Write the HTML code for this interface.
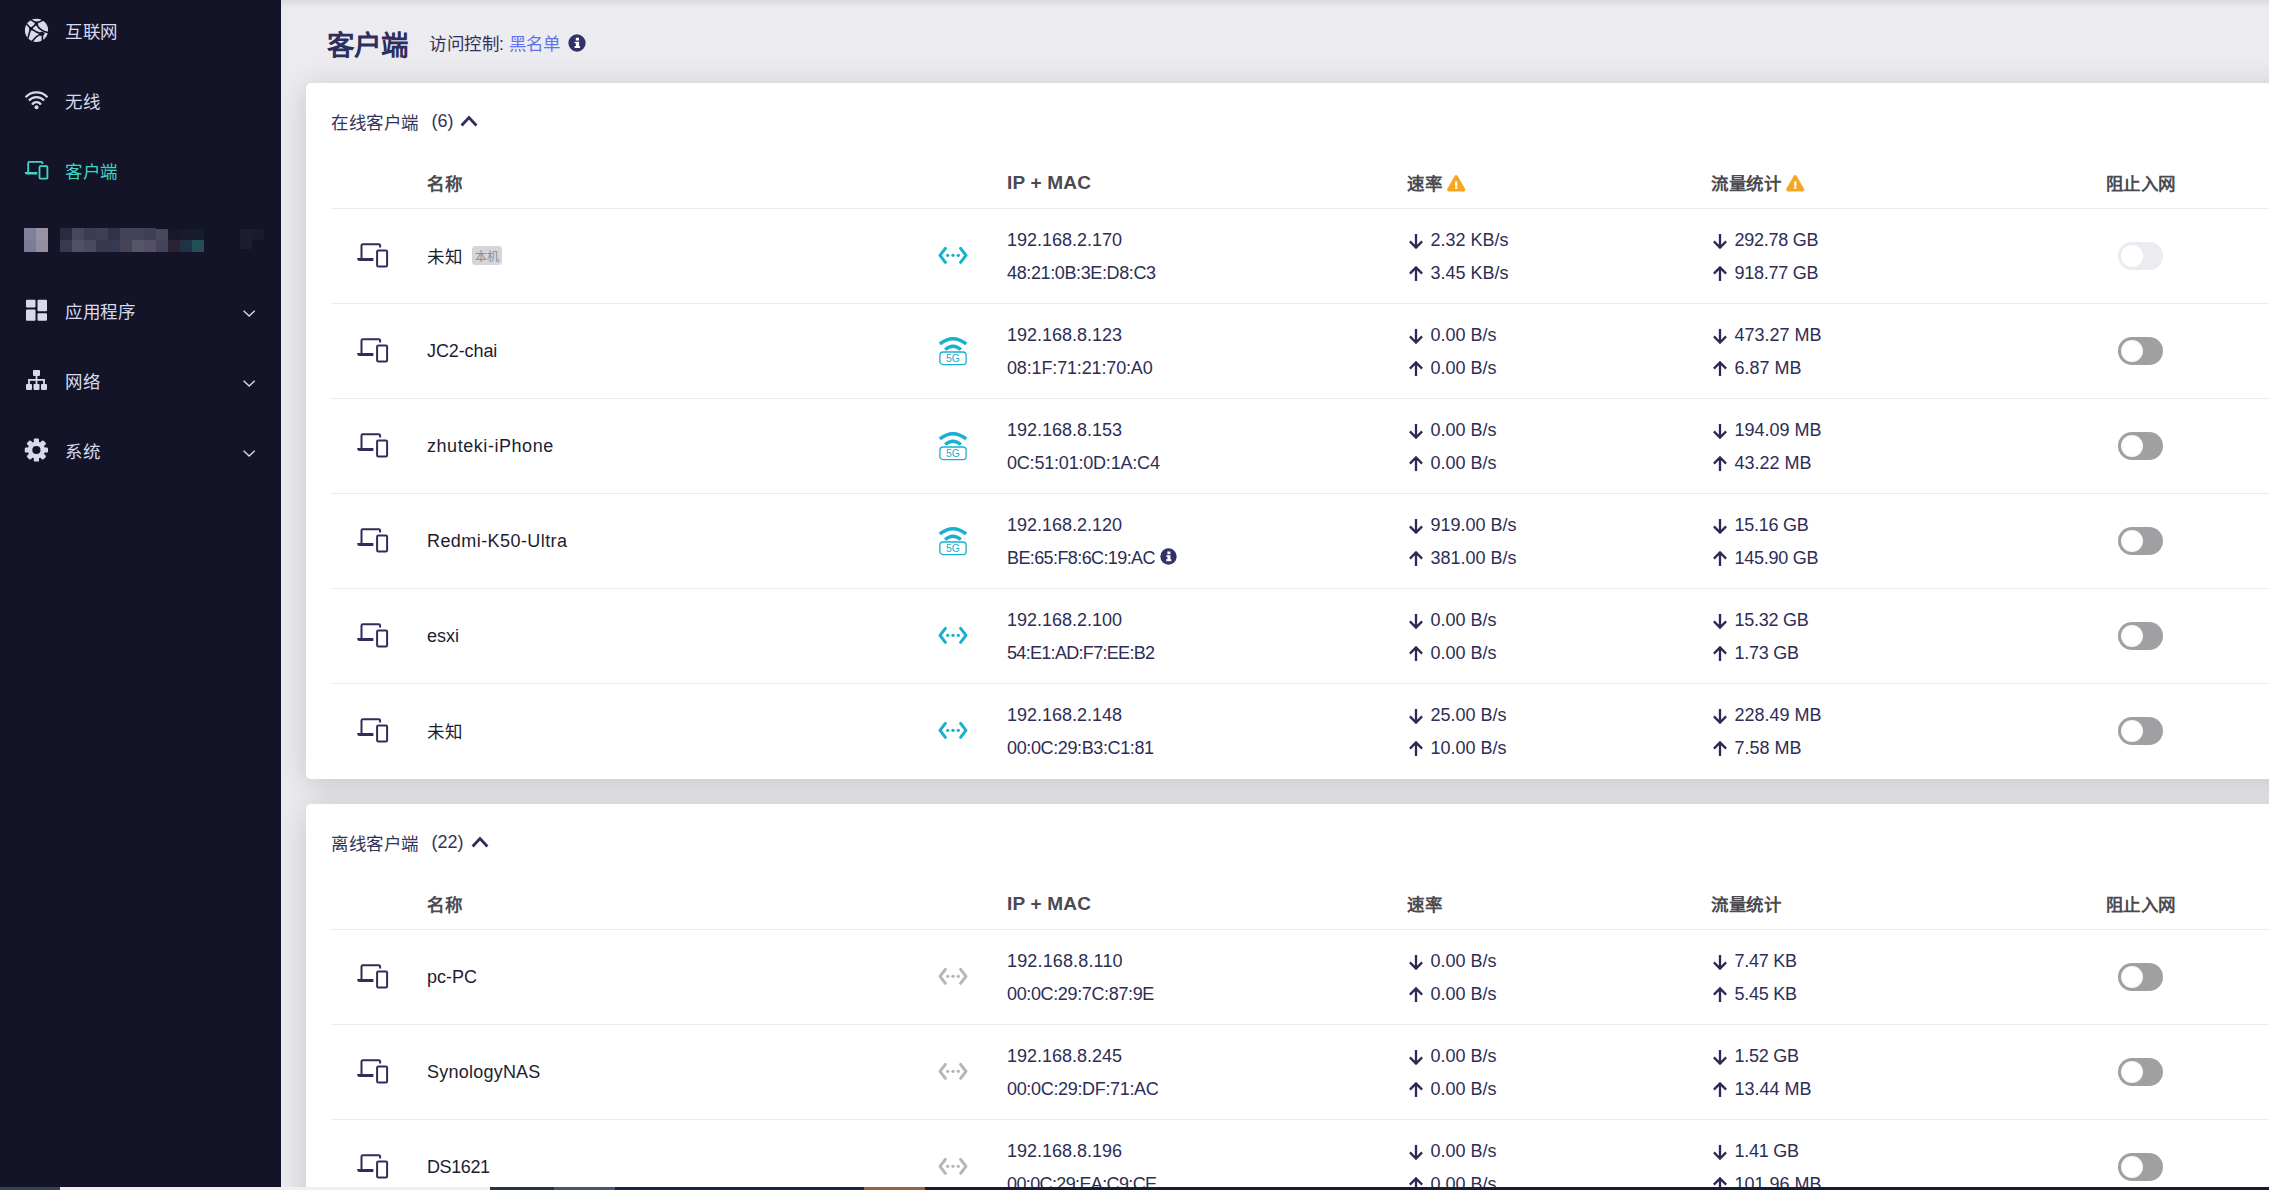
<!DOCTYPE html>
<html lang="zh-CN">
<head>
<meta charset="utf-8">
<title>客户端</title>
<style>
*{margin:0;padding:0;box-sizing:border-box}
html,body{width:2269px;height:1190px;overflow:hidden}
body{position:relative;background:#ebebf0;font-family:"Liberation Sans",sans-serif;font-size:17.5px;color:#2d2d56}
svg{display:block;position:absolute;overflow:visible}
.side{position:absolute;left:0;top:0;width:281px;height:1190px;background:#131427;color:#d9d9ee}
.side .it{position:absolute;left:0;width:280px;height:70px}
.side .it span{position:absolute;left:65px;top:2px;line-height:70px;font-size:17.5px;letter-spacing:.5px;white-space:nowrap}
.side .it.act{color:#3fd6c8}
.side .ico{left:24px;top:23px}
.side .chevdn{left:242.8px;top:35.4px}
.mz{position:absolute;width:12px;height:12px}
.main{position:absolute;left:0;top:0;width:2269px;height:1190px;overflow:hidden}
.ptitle{position:absolute;left:327px;top:25.5px;line-height:40px;font-size:27.5px;font-weight:bold;color:#2e2e5e;white-space:nowrap}
.acl{position:absolute;left:429px;top:29px;line-height:30px;font-size:17.5px;color:#33335a;white-space:nowrap}
.acl .lnk{color:#6272ee;margin-left:-0.5px}
.acl .info{left:138.9px;top:5px;color:#323266}
.card{position:absolute;left:306px;width:2100px;background:#fff;border-radius:5px;box-shadow:0 5px 32px rgba(0,0,0,.165)}
.c1{top:83px;height:696px}
.c2{top:804px;height:500px}
.ctitle{position:absolute;left:25px;top:23px;height:30px;line-height:30px;font-size:17.5px;color:#33335a;white-space:nowrap}
.ctitle .cnt{margin-left:13px;font-size:18px}
.cjk{letter-spacing:.5px}
.ctitle .cjk{position:relative;top:1.5px}
.ctitle .chevup{top:9px;color:#2e2e5e}
.c1 .chevup{left:129px}
.c2 .chevup{left:140px}
.thead{position:absolute;left:25px;top:76px;width:2100px;height:50px;border-bottom:1px solid #e9e9f1}
.h{position:absolute;top:8px;line-height:32px;font-size:17.5px;font-weight:bold;color:#4a4a50;white-space:nowrap}
.h1{left:96px}.h2{left:676px;font-size:19px;letter-spacing:.2px}.h3{left:1076px}.h4{left:1380px}.h5{left:1774.5px}
.h1,.h3,.h4,.h5{top:9px;letter-spacing:.5px}
.h .warn{top:7.2px}
.h3 .warn{left:39.5px}.h4 .warn{left:74.5px}
.row{position:absolute;left:25px;width:2100px;height:95px;border-bottom:1px solid #e9e9f1}
.row .dev{left:26px;top:33px;color:#2e2d5b}
.name{position:absolute;left:96px;top:31px;line-height:32px;font-size:18px;color:#1d1d30;white-space:nowrap}
.name.cjk{font-size:17.5px;top:32px}
.name.cjk .badge{margin-top:5px}
.badge{display:inline-block;vertical-align:top;margin:6px 0 0 10px;letter-spacing:0;width:30px;height:19px;line-height:23px;overflow:hidden;border-radius:3.5px;background:#d5d5dc;color:#8d8d96;font-size:12px;text-align:center}
.conn{color:#17b0ce}
.conn.gray{color:#b4b6bd}
.row .conn{left:607px;top:37.3px}
.row .conn.wifi{left:607px;top:31.5px}
.c{position:absolute;top:15px;white-space:nowrap}
.c .l{position:relative;height:32.5px;line-height:32.5px;font-size:18px}
.ip{left:676px}.sp{left:1076px}.tr{left:1380px}
.c .arr{left:0.5px;top:9.5px;color:#2a2a55}
.sp span,.tr span{margin-left:23.5px}
.mac .mi{display:inline-block;position:relative;vertical-align:top;margin:6.7px 0 0 5.5px;width:17px;height:17px;color:#323266}
.tg{position:absolute;left:1787px;top:33px;width:45px;height:28px;border-radius:14px;background:#a0a0a2}
.tg i{position:absolute;left:2.75px;top:2.5px;width:22.5px;height:22.5px;border-radius:50%;background:radial-gradient(circle,#fff 55%,#f1f1f1 85%,#e6e6e8 100%)}
.tg.dis{background:#ebebf1}
.tg.dis i{background:#fff}
.strip{position:absolute;left:0;top:1187px;width:2269px;height:3px;overflow:hidden}
.strip i{position:absolute;top:0;height:3px}
.c .arr.dn{top:9px}
.row.last{border-bottom-color:transparent}
.topsh{position:absolute;left:281px;top:0;width:1988px;height:9px;background:linear-gradient(rgba(0,0,0,.075),rgba(0,0,0,.03) 45%,rgba(0,0,0,0))}
.ctitle .cjk{display:inline-block;width:87.5px;height:30px;vertical-align:top;overflow:visible}
.acl .cjk{display:inline-block;width:75.4px;vertical-align:top}
.name.cjk .badge{position:absolute;left:45px;top:5px;margin:0}

</style>
</head>
<body>
<div class="side">
<div class="it" style="top:-5px"><svg class="ico" viewBox="0 0 24 24" width="24" height="24"><circle cx="12.5" cy="12.3" r="11.6" fill="#d9d9ee"/><g fill="none" stroke="#131427" stroke-width="1.6" stroke-linecap="round"><path d="M7.4 2Q12.4 6.6 18.8 2.2"/><path d="M12.4 5.9L7 10.7L2.8 6.2"/><path d="M6.7 11Q5.2 15 4.1 19.6"/><path d="M7 10.7Q12 14.5 17.5 15.9"/><path d="M12.4 5.9Q15.6 13.2 24.4 14.6"/><path d="M18.4 15.5V22.4"/><path d="M17.5 15.9Q12.2 17.6 8.4 23.2"/></g><g fill="#131427"><rect x="10.7" y="4.3" width="3.4" height="3.3" rx=".3"/><rect x="5.2" y="8.9" width="3.5" height="3.5" rx=".3"/><path d="M14.8 15.7L17.5 13.4L21 14.9L19.2 17.8L16.4 17.8z"/></g></svg><span>互联网</span></div>
<div class="it" style="top:65px"><svg class="ico" viewBox="0 0 24 24" width="24" height="24"><g fill="none" stroke="#d9d9ee" stroke-width="2.3"><path d="M1.6 9.3A14.7 14.7 0 0 1 23.4 9.3"/><path d="M4.9 12.5A10.2 10.2 0 0 1 20.1 12.5"/><path d="M8.1 16.6A5.2 5.2 0 0 1 16.9 16.6"/></g><circle cx="12.5" cy="19.2" r="2" fill="#d9d9ee"/></svg><span>无线</span></div>
<div class="it act" style="top:135px"><svg class="ico" viewBox="0 0 24 24" width="24" height="24"><path d="M18.4 6V4.85a1 1 0 0 0-1-1H5.2a1 1 0 0 0-1 1V14.5" fill="none" stroke="currentColor" stroke-width="1.8"/><path d="M0.8 13.9H13.2V16.6H2.9a2.1 2.1 0 0 1-2.1-2.1z" fill="currentColor"/><rect x="15.5" y="8.2" width="7.9" height="12.4" rx="0.8" fill="none" stroke="currentColor" stroke-width="1.8"/></svg><span>客户端</span></div>
<div class="it" style="top:205px">
<b class="mz" style="left:24px;top:23px;background:#7e809c"></b><b class="mz" style="left:36px;top:23px;background:#9992a4"></b><b class="mz" style="left:24px;top:35px;background:#7a7c98"></b><b class="mz" style="left:36px;top:35px;background:#948d9e"></b>
<b class="mz" style="left:60px;top:23px;background:#2a2b40"></b><b class="mz" style="left:72px;top:23px;background:#47465a"></b><b class="mz" style="left:84px;top:23px;background:#3b3b52"></b><b class="mz" style="left:96px;top:23px;background:#3e3e55"></b><b class="mz" style="left:108px;top:23px;background:#303248"></b><b class="mz" style="left:120px;top:23px;background:#434157"></b><b class="mz" style="left:132px;top:23px;background:#434157"></b><b class="mz" style="left:144px;top:23px;background:#3e3e55"></b><b class="mz" style="left:156px;top:24px;height:11px;background:#4a475c"></b><b class="mz" style="left:168px;top:24px;height:11px;background:#191828"></b><b class="mz" style="left:180px;top:24px;height:11px;background:#171b2c"></b><b class="mz" style="left:192px;top:24px;height:11px;background:#171d2e"></b>
<b class="mz" style="left:60px;top:35px;background:#383850"></b><b class="mz" style="left:72px;top:35px;background:#524f66"></b><b class="mz" style="left:84px;top:35px;background:#4a495f"></b><b class="mz" style="left:96px;top:35px;background:#38384d"></b><b class="mz" style="left:108px;top:35px;background:#363a50"></b><b class="mz" style="left:120px;top:35px;background:#474356"></b><b class="mz" style="left:132px;top:35px;background:#555468"></b><b class="mz" style="left:144px;top:35px;background:#524f66"></b><b class="mz" style="left:156px;top:35px;background:#434359"></b><b class="mz" style="left:168px;top:35px;background:#282436"></b><b class="mz" style="left:180px;top:35px;background:#1f3344"></b><b class="mz" style="left:192px;top:35px;background:#235058"></b>
<b class="mz" style="left:240px;top:24px;height:11px;background:#1c1d30"></b><b class="mz" style="left:252px;top:24px;height:11px;background:#191a2b"></b><b class="mz" style="left:240px;top:35px;height:9px;background:#1c1d30"></b>
</div>
<div class="it" style="top:275px"><svg class="ico" viewBox="0 0 24 24" width="24" height="24"><g fill="#d9d9ee"><rect x="2" y="1.8" width="9.5" height="7.6" rx="1"/><rect x="2" y="11.4" width="9.5" height="11.4" rx="1"/><rect x="13.5" y="1.8" width="9.5" height="11.4" rx="1"/><rect x="13.5" y="15.2" width="9.5" height="7.6" rx="1"/></g></svg><span>应用程序</span><svg class="chevdn" viewBox="0 0 13 8" width="13" height="8"><path d="M0.6 0.7L6.15 6.1L11.7 0.7" fill="none" stroke="currentColor" stroke-width="1.35"/></svg></div>
<div class="it" style="top:345px"><svg class="ico" viewBox="0 0 24 24" width="24" height="24"><g fill="#d9d9ee"><rect x="9" y="1.9" width="7" height="6" rx="0.8"/><rect x="2" y="15.9" width="6" height="6" rx="0.8"/><rect x="9.5" y="15.9" width="6" height="6" rx="0.8"/><rect x="17" y="15.9" width="6" height="6" rx="0.8"/><rect x="11.6" y="7" width="1.8" height="9.5"/><rect x="4.1" y="11" width="16.8" height="1.8"/><rect x="4.1" y="11" width="1.8" height="5.5"/><rect x="19.1" y="11" width="1.8" height="5.5"/></g></svg><span>网络</span><svg class="chevdn" viewBox="0 0 13 8" width="13" height="8"><path d="M0.6 0.7L6.15 6.1L11.7 0.7" fill="none" stroke="currentColor" stroke-width="1.35"/></svg></div>
<div class="it" style="top:415px"><svg class="ico" viewBox="0 0 24 24" width="24" height="24"><g transform="translate(12.4 12)"><g fill="#d9d9ee"><rect x="-2.6" y="-11.6" width="5.2" height="23.2" rx="1.2"/><rect x="-2.6" y="-11.6" width="5.2" height="23.2" rx="1.2" transform="rotate(45)"/><rect x="-2.6" y="-11.6" width="5.2" height="23.2" rx="1.2" transform="rotate(90)"/><rect x="-2.6" y="-11.6" width="5.2" height="23.2" rx="1.2" transform="rotate(135)"/><circle r="8.6"/></g><circle r="4.1" fill="#131427"/></g></svg><span>系统</span><svg class="chevdn" viewBox="0 0 13 8" width="13" height="8"><path d="M0.6 0.7L6.15 6.1L11.7 0.7" fill="none" stroke="currentColor" stroke-width="1.35"/></svg></div>
</div>

<div class="main">
<div class="topsh"></div>
<div class="ptitle">客户端</div>
<div class="acl"><span class="cjk">访问控制:</span> <span class="lnk">黑名单</span><svg class="info" viewBox="0 0 18 18" width="18" height="18"><circle cx="9" cy="9" r="8.65" fill="currentColor"/><path d="M7.8 3.8h3.2v2.7H7.8zM6.6 7.7h4.5v4.3h0.9v2H6.6v-2h1.3V9.3H6.6z" fill="#fff"/></svg></div>
<div class="card c1">
<div class="ctitle"><span class="cjk">在线客户端</span><span class="cnt">(6)</span><svg class="chevup" viewBox="0 0 18 12" width="18" height="12"><path d="M1.6 10.4L9 2.6L16.4 10.4" fill="none" stroke="currentColor" stroke-width="2.9"/></svg></div>
<div class="thead"><div class="h h1">名称</div><div class="h h2">IP + MAC</div><div class="h h3">速率<svg class="warn" viewBox="0 0 19 17" width="19" height="17"><path d="M9.2 2.1L16.4 14.6H2z" fill="#f5a623" stroke="#f5a623" stroke-width="3.8" stroke-linejoin="round"/><path d="M8.1 6.4h2.3v5H8.1zM8.1 11.9h2.3v1.8H8.1z" fill="#fff"/></svg></div><div class="h h4">流量统计<svg class="warn" viewBox="0 0 19 17" width="19" height="17"><path d="M9.2 2.1L16.4 14.6H2z" fill="#f5a623" stroke="#f5a623" stroke-width="3.8" stroke-linejoin="round"/><path d="M8.1 6.4h2.3v5H8.1zM8.1 11.9h2.3v1.8H8.1z" fill="#fff"/></svg></div><div class="h h5">阻止入网</div></div>
<div class="row" style="top:126px">
<svg class="dev" viewBox="0 0 32 26" width="32" height="26"><path d="M23.1 5.4V3.6a1.4 1.4 0 0 0-1.4-1.4H5.9a1.4 1.4 0 0 0-1.4 1.4V17" fill="none" stroke="currentColor" stroke-width="2"/><path d="M0.2 15.9H16.4V18.9H2.7a2.5 2.5 0 0 1-2.5-2.5z" fill="currentColor"/><rect x="20.1" y="8.4" width="10" height="16" rx="1.2" fill="none" stroke="currentColor" stroke-width="2"/></svg>
<div class="name cjk">未知<span class="badge">本机</span></div>
<svg class="conn " viewBox="0 0 30 18" width="30" height="18"><path d="M7.4 2.4L2 9.4L7.4 16.4M22.6 2.4L28 9.4L22.6 16.4" fill="none" stroke="currentColor" stroke-width="3" stroke-linecap="round" stroke-linejoin="round"/><circle cx="9.7" cy="9.3" r="1.65" fill="currentColor"/><circle cx="15" cy="9.3" r="1.65" fill="currentColor"/><circle cx="20.3" cy="9.3" r="1.65" fill="currentColor"/></svg>
<div class="c ip"><div class="l">192.168.2.170</div><div class="l mac" style="letter-spacing:-0.38px">48:21:0B:3E:D8:C3</div></div>
<div class="c sp"><div class="l"><svg class="arr dn" viewBox="0 0 16 16" width="16" height="16"><path d="M8 1V14.2M1.9 8.4L8 14.6L14.1 8.4" fill="none" stroke="currentColor" stroke-width="2.3"/></svg><span>2.32 KB/s</span></div><div class="l"><svg class="arr" viewBox="0 0 16 16" width="16" height="16"><path d="M8 15V1.8M1.9 7.6L8 1.4L14.1 7.6" fill="none" stroke="currentColor" stroke-width="2.3"/></svg><span>3.45 KB/s</span></div></div>
<div class="c tr"><div class="l"><svg class="arr dn" viewBox="0 0 16 16" width="16" height="16"><path d="M8 1V14.2M1.9 8.4L8 14.6L14.1 8.4" fill="none" stroke="currentColor" stroke-width="2.3"/></svg><span style="letter-spacing:-0.27px">292.78 GB</span></div><div class="l"><svg class="arr" viewBox="0 0 16 16" width="16" height="16"><path d="M8 15V1.8M1.9 7.6L8 1.4L14.1 7.6" fill="none" stroke="currentColor" stroke-width="2.3"/></svg><span style="letter-spacing:-0.27px">918.77 GB</span></div></div>
<div class="tg dis"><i></i></div>
</div>
<div class="row" style="top:221px">
<svg class="dev" viewBox="0 0 32 26" width="32" height="26"><path d="M23.1 5.4V3.6a1.4 1.4 0 0 0-1.4-1.4H5.9a1.4 1.4 0 0 0-1.4 1.4V17" fill="none" stroke="currentColor" stroke-width="2"/><path d="M0.2 15.9H16.4V18.9H2.7a2.5 2.5 0 0 1-2.5-2.5z" fill="currentColor"/><rect x="20.1" y="8.4" width="10" height="16" rx="1.2" fill="none" stroke="currentColor" stroke-width="2"/></svg>
<div class="name" style="letter-spacing:-0.1px">JC2-chai</div>
<svg class="conn wifi" viewBox="0 0 30 30" width="30" height="30"><path d="M1.8 7.9Q15 -2.5 28.2 7.9" fill="none" stroke="currentColor" stroke-width="3.4"/><path d="M7.1 13.6Q15 6.8 22.9 13.6" fill="none" stroke="currentColor" stroke-width="3.3"/><rect x="1.9" y="16" width="26.2" height="12.6" rx="3.2" fill="none" stroke="currentColor" stroke-width="1.3"/><text x="15" y="26.1" text-anchor="middle" font-family="Liberation Sans, sans-serif" font-size="10.4" fill="currentColor">5G</text></svg>
<div class="c ip"><div class="l">192.168.8.123</div><div class="l mac" style="letter-spacing:-0.15px">08:1F:71:21:70:A0</div></div>
<div class="c sp"><div class="l"><svg class="arr dn" viewBox="0 0 16 16" width="16" height="16"><path d="M8 1V14.2M1.9 8.4L8 14.6L14.1 8.4" fill="none" stroke="currentColor" stroke-width="2.3"/></svg><span>0.00 B/s</span></div><div class="l"><svg class="arr" viewBox="0 0 16 16" width="16" height="16"><path d="M8 15V1.8M1.9 7.6L8 1.4L14.1 7.6" fill="none" stroke="currentColor" stroke-width="2.3"/></svg><span>0.00 B/s</span></div></div>
<div class="c tr"><div class="l"><svg class="arr dn" viewBox="0 0 16 16" width="16" height="16"><path d="M8 1V14.2M1.9 8.4L8 14.6L14.1 8.4" fill="none" stroke="currentColor" stroke-width="2.3"/></svg><span>473.27 MB</span></div><div class="l"><svg class="arr" viewBox="0 0 16 16" width="16" height="16"><path d="M8 15V1.8M1.9 7.6L8 1.4L14.1 7.6" fill="none" stroke="currentColor" stroke-width="2.3"/></svg><span>6.87 MB</span></div></div>
<div class="tg off"><i></i></div>
</div>
<div class="row" style="top:316px">
<svg class="dev" viewBox="0 0 32 26" width="32" height="26"><path d="M23.1 5.4V3.6a1.4 1.4 0 0 0-1.4-1.4H5.9a1.4 1.4 0 0 0-1.4 1.4V17" fill="none" stroke="currentColor" stroke-width="2"/><path d="M0.2 15.9H16.4V18.9H2.7a2.5 2.5 0 0 1-2.5-2.5z" fill="currentColor"/><rect x="20.1" y="8.4" width="10" height="16" rx="1.2" fill="none" stroke="currentColor" stroke-width="2"/></svg>
<div class="name" style="letter-spacing:0.55px">zhuteki-iPhone</div>
<svg class="conn wifi" viewBox="0 0 30 30" width="30" height="30"><path d="M1.8 7.9Q15 -2.5 28.2 7.9" fill="none" stroke="currentColor" stroke-width="3.4"/><path d="M7.1 13.6Q15 6.8 22.9 13.6" fill="none" stroke="currentColor" stroke-width="3.3"/><rect x="1.9" y="16" width="26.2" height="12.6" rx="3.2" fill="none" stroke="currentColor" stroke-width="1.3"/><text x="15" y="26.1" text-anchor="middle" font-family="Liberation Sans, sans-serif" font-size="10.4" fill="currentColor">5G</text></svg>
<div class="c ip"><div class="l">192.168.8.153</div><div class="l mac" style="letter-spacing:-0.2px">0C:51:01:0D:1A:C4</div></div>
<div class="c sp"><div class="l"><svg class="arr dn" viewBox="0 0 16 16" width="16" height="16"><path d="M8 1V14.2M1.9 8.4L8 14.6L14.1 8.4" fill="none" stroke="currentColor" stroke-width="2.3"/></svg><span>0.00 B/s</span></div><div class="l"><svg class="arr" viewBox="0 0 16 16" width="16" height="16"><path d="M8 15V1.8M1.9 7.6L8 1.4L14.1 7.6" fill="none" stroke="currentColor" stroke-width="2.3"/></svg><span>0.00 B/s</span></div></div>
<div class="c tr"><div class="l"><svg class="arr dn" viewBox="0 0 16 16" width="16" height="16"><path d="M8 1V14.2M1.9 8.4L8 14.6L14.1 8.4" fill="none" stroke="currentColor" stroke-width="2.3"/></svg><span>194.09 MB</span></div><div class="l"><svg class="arr" viewBox="0 0 16 16" width="16" height="16"><path d="M8 15V1.8M1.9 7.6L8 1.4L14.1 7.6" fill="none" stroke="currentColor" stroke-width="2.3"/></svg><span>43.22 MB</span></div></div>
<div class="tg off"><i></i></div>
</div>
<div class="row" style="top:411px">
<svg class="dev" viewBox="0 0 32 26" width="32" height="26"><path d="M23.1 5.4V3.6a1.4 1.4 0 0 0-1.4-1.4H5.9a1.4 1.4 0 0 0-1.4 1.4V17" fill="none" stroke="currentColor" stroke-width="2"/><path d="M0.2 15.9H16.4V18.9H2.7a2.5 2.5 0 0 1-2.5-2.5z" fill="currentColor"/><rect x="20.1" y="8.4" width="10" height="16" rx="1.2" fill="none" stroke="currentColor" stroke-width="2"/></svg>
<div class="name" style="letter-spacing:0.43px">Redmi-K50-Ultra</div>
<svg class="conn wifi" viewBox="0 0 30 30" width="30" height="30"><path d="M1.8 7.9Q15 -2.5 28.2 7.9" fill="none" stroke="currentColor" stroke-width="3.4"/><path d="M7.1 13.6Q15 6.8 22.9 13.6" fill="none" stroke="currentColor" stroke-width="3.3"/><rect x="1.9" y="16" width="26.2" height="12.6" rx="3.2" fill="none" stroke="currentColor" stroke-width="1.3"/><text x="15" y="26.1" text-anchor="middle" font-family="Liberation Sans, sans-serif" font-size="10.4" fill="currentColor">5G</text></svg>
<div class="c ip"><div class="l">192.168.2.120</div><div class="l mac" style="letter-spacing:-0.6px">BE:65:F8:6C:19:AC<svg class="info mi" viewBox="0 0 18 18" width="18" height="18"><circle cx="9" cy="9" r="8.65" fill="currentColor"/><path d="M7.8 3.8h3.2v2.7H7.8zM6.6 7.7h4.5v4.3h0.9v2H6.6v-2h1.3V9.3H6.6z" fill="#fff"/></svg></div></div>
<div class="c sp"><div class="l"><svg class="arr dn" viewBox="0 0 16 16" width="16" height="16"><path d="M8 1V14.2M1.9 8.4L8 14.6L14.1 8.4" fill="none" stroke="currentColor" stroke-width="2.3"/></svg><span>919.00 B/s</span></div><div class="l"><svg class="arr" viewBox="0 0 16 16" width="16" height="16"><path d="M8 15V1.8M1.9 7.6L8 1.4L14.1 7.6" fill="none" stroke="currentColor" stroke-width="2.3"/></svg><span>381.00 B/s</span></div></div>
<div class="c tr"><div class="l"><svg class="arr dn" viewBox="0 0 16 16" width="16" height="16"><path d="M8 1V14.2M1.9 8.4L8 14.6L14.1 8.4" fill="none" stroke="currentColor" stroke-width="2.3"/></svg><span style="letter-spacing:-0.27px">15.16 GB</span></div><div class="l"><svg class="arr" viewBox="0 0 16 16" width="16" height="16"><path d="M8 15V1.8M1.9 7.6L8 1.4L14.1 7.6" fill="none" stroke="currentColor" stroke-width="2.3"/></svg><span style="letter-spacing:-0.27px">145.90 GB</span></div></div>
<div class="tg off"><i></i></div>
</div>
<div class="row" style="top:506px">
<svg class="dev" viewBox="0 0 32 26" width="32" height="26"><path d="M23.1 5.4V3.6a1.4 1.4 0 0 0-1.4-1.4H5.9a1.4 1.4 0 0 0-1.4 1.4V17" fill="none" stroke="currentColor" stroke-width="2"/><path d="M0.2 15.9H16.4V18.9H2.7a2.5 2.5 0 0 1-2.5-2.5z" fill="currentColor"/><rect x="20.1" y="8.4" width="10" height="16" rx="1.2" fill="none" stroke="currentColor" stroke-width="2"/></svg>
<div class="name">esxi</div>
<svg class="conn " viewBox="0 0 30 18" width="30" height="18"><path d="M7.4 2.4L2 9.4L7.4 16.4M22.6 2.4L28 9.4L22.6 16.4" fill="none" stroke="currentColor" stroke-width="3" stroke-linecap="round" stroke-linejoin="round"/><circle cx="9.7" cy="9.3" r="1.65" fill="currentColor"/><circle cx="15" cy="9.3" r="1.65" fill="currentColor"/><circle cx="20.3" cy="9.3" r="1.65" fill="currentColor"/></svg>
<div class="c ip"><div class="l">192.168.2.100</div><div class="l mac" style="letter-spacing:-0.69px">54:E1:AD:F7:EE:B2</div></div>
<div class="c sp"><div class="l"><svg class="arr dn" viewBox="0 0 16 16" width="16" height="16"><path d="M8 1V14.2M1.9 8.4L8 14.6L14.1 8.4" fill="none" stroke="currentColor" stroke-width="2.3"/></svg><span>0.00 B/s</span></div><div class="l"><svg class="arr" viewBox="0 0 16 16" width="16" height="16"><path d="M8 15V1.8M1.9 7.6L8 1.4L14.1 7.6" fill="none" stroke="currentColor" stroke-width="2.3"/></svg><span>0.00 B/s</span></div></div>
<div class="c tr"><div class="l"><svg class="arr dn" viewBox="0 0 16 16" width="16" height="16"><path d="M8 1V14.2M1.9 8.4L8 14.6L14.1 8.4" fill="none" stroke="currentColor" stroke-width="2.3"/></svg><span style="letter-spacing:-0.27px">15.32 GB</span></div><div class="l"><svg class="arr" viewBox="0 0 16 16" width="16" height="16"><path d="M8 15V1.8M1.9 7.6L8 1.4L14.1 7.6" fill="none" stroke="currentColor" stroke-width="2.3"/></svg><span style="letter-spacing:-0.27px">1.73 GB</span></div></div>
<div class="tg off"><i></i></div>
</div>
<div class="row last" style="top:601px">
<svg class="dev" viewBox="0 0 32 26" width="32" height="26"><path d="M23.1 5.4V3.6a1.4 1.4 0 0 0-1.4-1.4H5.9a1.4 1.4 0 0 0-1.4 1.4V17" fill="none" stroke="currentColor" stroke-width="2"/><path d="M0.2 15.9H16.4V18.9H2.7a2.5 2.5 0 0 1-2.5-2.5z" fill="currentColor"/><rect x="20.1" y="8.4" width="10" height="16" rx="1.2" fill="none" stroke="currentColor" stroke-width="2"/></svg>
<div class="name cjk">未知</div>
<svg class="conn " viewBox="0 0 30 18" width="30" height="18"><path d="M7.4 2.4L2 9.4L7.4 16.4M22.6 2.4L28 9.4L22.6 16.4" fill="none" stroke="currentColor" stroke-width="3" stroke-linecap="round" stroke-linejoin="round"/><circle cx="9.7" cy="9.3" r="1.65" fill="currentColor"/><circle cx="15" cy="9.3" r="1.65" fill="currentColor"/><circle cx="20.3" cy="9.3" r="1.65" fill="currentColor"/></svg>
<div class="c ip"><div class="l">192.168.2.148</div><div class="l mac" style="letter-spacing:-0.38px">00:0C:29:B3:C1:81</div></div>
<div class="c sp"><div class="l"><svg class="arr dn" viewBox="0 0 16 16" width="16" height="16"><path d="M8 1V14.2M1.9 8.4L8 14.6L14.1 8.4" fill="none" stroke="currentColor" stroke-width="2.3"/></svg><span>25.00 B/s</span></div><div class="l"><svg class="arr" viewBox="0 0 16 16" width="16" height="16"><path d="M8 15V1.8M1.9 7.6L8 1.4L14.1 7.6" fill="none" stroke="currentColor" stroke-width="2.3"/></svg><span>10.00 B/s</span></div></div>
<div class="c tr"><div class="l"><svg class="arr dn" viewBox="0 0 16 16" width="16" height="16"><path d="M8 1V14.2M1.9 8.4L8 14.6L14.1 8.4" fill="none" stroke="currentColor" stroke-width="2.3"/></svg><span>228.49 MB</span></div><div class="l"><svg class="arr" viewBox="0 0 16 16" width="16" height="16"><path d="M8 15V1.8M1.9 7.6L8 1.4L14.1 7.6" fill="none" stroke="currentColor" stroke-width="2.3"/></svg><span>7.58 MB</span></div></div>
<div class="tg off"><i></i></div>
</div>
</div>
<div class="card c2">
<div class="ctitle"><span class="cjk">离线客户端</span><span class="cnt">(22)</span><svg class="chevup" viewBox="0 0 18 12" width="18" height="12"><path d="M1.6 10.4L9 2.6L16.4 10.4" fill="none" stroke="currentColor" stroke-width="2.9"/></svg></div>
<div class="thead"><div class="h h1">名称</div><div class="h h2">IP + MAC</div><div class="h h3">速率</div><div class="h h4">流量统计</div><div class="h h5">阻止入网</div></div>
<div class="row" style="top:126px">
<svg class="dev" viewBox="0 0 32 26" width="32" height="26"><path d="M23.1 5.4V3.6a1.4 1.4 0 0 0-1.4-1.4H5.9a1.4 1.4 0 0 0-1.4 1.4V17" fill="none" stroke="currentColor" stroke-width="2"/><path d="M0.2 15.9H16.4V18.9H2.7a2.5 2.5 0 0 1-2.5-2.5z" fill="currentColor"/><rect x="20.1" y="8.4" width="10" height="16" rx="1.2" fill="none" stroke="currentColor" stroke-width="2"/></svg>
<div class="name">pc-PC</div>
<svg class="conn gray" viewBox="0 0 30 18" width="30" height="18"><path d="M7.4 2.4L2 9.4L7.4 16.4M22.6 2.4L28 9.4L22.6 16.4" fill="none" stroke="currentColor" stroke-width="3" stroke-linecap="round" stroke-linejoin="round"/><circle cx="9.7" cy="9.3" r="1.65" fill="currentColor"/><circle cx="15" cy="9.3" r="1.65" fill="currentColor"/><circle cx="20.3" cy="9.3" r="1.65" fill="currentColor"/></svg>
<div class="c ip"><div class="l" style="letter-spacing:0.15px">192.168.8.110</div><div class="l mac" style="letter-spacing:-0.36px">00:0C:29:7C:87:9E</div></div>
<div class="c sp"><div class="l"><svg class="arr dn" viewBox="0 0 16 16" width="16" height="16"><path d="M8 1V14.2M1.9 8.4L8 14.6L14.1 8.4" fill="none" stroke="currentColor" stroke-width="2.3"/></svg><span>0.00 B/s</span></div><div class="l"><svg class="arr" viewBox="0 0 16 16" width="16" height="16"><path d="M8 15V1.8M1.9 7.6L8 1.4L14.1 7.6" fill="none" stroke="currentColor" stroke-width="2.3"/></svg><span>0.00 B/s</span></div></div>
<div class="c tr"><div class="l"><svg class="arr dn" viewBox="0 0 16 16" width="16" height="16"><path d="M8 1V14.2M1.9 8.4L8 14.6L14.1 8.4" fill="none" stroke="currentColor" stroke-width="2.3"/></svg><span style="letter-spacing:-0.27px">7.47 KB</span></div><div class="l"><svg class="arr" viewBox="0 0 16 16" width="16" height="16"><path d="M8 15V1.8M1.9 7.6L8 1.4L14.1 7.6" fill="none" stroke="currentColor" stroke-width="2.3"/></svg><span style="letter-spacing:-0.27px">5.45 KB</span></div></div>
<div class="tg off"><i></i></div>
</div>
<div class="row" style="top:221px">
<svg class="dev" viewBox="0 0 32 26" width="32" height="26"><path d="M23.1 5.4V3.6a1.4 1.4 0 0 0-1.4-1.4H5.9a1.4 1.4 0 0 0-1.4 1.4V17" fill="none" stroke="currentColor" stroke-width="2"/><path d="M0.2 15.9H16.4V18.9H2.7a2.5 2.5 0 0 1-2.5-2.5z" fill="currentColor"/><rect x="20.1" y="8.4" width="10" height="16" rx="1.2" fill="none" stroke="currentColor" stroke-width="2"/></svg>
<div class="name" style="letter-spacing:0.23px">SynologyNAS</div>
<svg class="conn gray" viewBox="0 0 30 18" width="30" height="18"><path d="M7.4 2.4L2 9.4L7.4 16.4M22.6 2.4L28 9.4L22.6 16.4" fill="none" stroke="currentColor" stroke-width="3" stroke-linecap="round" stroke-linejoin="round"/><circle cx="9.7" cy="9.3" r="1.65" fill="currentColor"/><circle cx="15" cy="9.3" r="1.65" fill="currentColor"/><circle cx="20.3" cy="9.3" r="1.65" fill="currentColor"/></svg>
<div class="c ip"><div class="l">192.168.8.245</div><div class="l mac" style="letter-spacing:-0.33px">00:0C:29:DF:71:AC</div></div>
<div class="c sp"><div class="l"><svg class="arr dn" viewBox="0 0 16 16" width="16" height="16"><path d="M8 1V14.2M1.9 8.4L8 14.6L14.1 8.4" fill="none" stroke="currentColor" stroke-width="2.3"/></svg><span>0.00 B/s</span></div><div class="l"><svg class="arr" viewBox="0 0 16 16" width="16" height="16"><path d="M8 15V1.8M1.9 7.6L8 1.4L14.1 7.6" fill="none" stroke="currentColor" stroke-width="2.3"/></svg><span>0.00 B/s</span></div></div>
<div class="c tr"><div class="l"><svg class="arr dn" viewBox="0 0 16 16" width="16" height="16"><path d="M8 1V14.2M1.9 8.4L8 14.6L14.1 8.4" fill="none" stroke="currentColor" stroke-width="2.3"/></svg><span style="letter-spacing:-0.27px">1.52 GB</span></div><div class="l"><svg class="arr" viewBox="0 0 16 16" width="16" height="16"><path d="M8 15V1.8M1.9 7.6L8 1.4L14.1 7.6" fill="none" stroke="currentColor" stroke-width="2.3"/></svg><span>13.44 MB</span></div></div>
<div class="tg off"><i></i></div>
</div>
<div class="row" style="top:316px">
<svg class="dev" viewBox="0 0 32 26" width="32" height="26"><path d="M23.1 5.4V3.6a1.4 1.4 0 0 0-1.4-1.4H5.9a1.4 1.4 0 0 0-1.4 1.4V17" fill="none" stroke="currentColor" stroke-width="2"/><path d="M0.2 15.9H16.4V18.9H2.7a2.5 2.5 0 0 1-2.5-2.5z" fill="currentColor"/><rect x="20.1" y="8.4" width="10" height="16" rx="1.2" fill="none" stroke="currentColor" stroke-width="2"/></svg>
<div class="name" style="letter-spacing:-0.4px">DS1621</div>
<svg class="conn gray" viewBox="0 0 30 18" width="30" height="18"><path d="M7.4 2.4L2 9.4L7.4 16.4M22.6 2.4L28 9.4L22.6 16.4" fill="none" stroke="currentColor" stroke-width="3" stroke-linecap="round" stroke-linejoin="round"/><circle cx="9.7" cy="9.3" r="1.65" fill="currentColor"/><circle cx="15" cy="9.3" r="1.65" fill="currentColor"/><circle cx="20.3" cy="9.3" r="1.65" fill="currentColor"/></svg>
<div class="c ip"><div class="l">192.168.8.196</div><div class="l mac" style="letter-spacing:-0.63px">00:0C:29:EA:C9:CE</div></div>
<div class="c sp"><div class="l"><svg class="arr dn" viewBox="0 0 16 16" width="16" height="16"><path d="M8 1V14.2M1.9 8.4L8 14.6L14.1 8.4" fill="none" stroke="currentColor" stroke-width="2.3"/></svg><span>0.00 B/s</span></div><div class="l"><svg class="arr" viewBox="0 0 16 16" width="16" height="16"><path d="M8 15V1.8M1.9 7.6L8 1.4L14.1 7.6" fill="none" stroke="currentColor" stroke-width="2.3"/></svg><span>0.00 B/s</span></div></div>
<div class="c tr"><div class="l"><svg class="arr dn" viewBox="0 0 16 16" width="16" height="16"><path d="M8 1V14.2M1.9 8.4L8 14.6L14.1 8.4" fill="none" stroke="currentColor" stroke-width="2.3"/></svg><span style="letter-spacing:-0.27px">1.41 GB</span></div><div class="l"><svg class="arr" viewBox="0 0 16 16" width="16" height="16"><path d="M8 15V1.8M1.9 7.6L8 1.4L14.1 7.6" fill="none" stroke="currentColor" stroke-width="2.3"/></svg><span>101.96 MB</span></div></div>
<div class="tg off"><i></i></div>
</div>
</div>
</div>
<div class="strip"><i style="left:0;width:60px;background:#3b424b"></i><i style="left:60px;width:430px;background:#f0f0f0"></i><i style="left:490px;width:64px;background:#27334a"></i><i style="left:554px;width:61px;background:#4a566e"></i><i style="left:615px;width:249px;background:#1a2544"></i><i style="left:864px;width:61px;background:#9a6244"></i><i style="left:925px;width:1344px;background:#161d33"></i></div>
</body>
</html>
